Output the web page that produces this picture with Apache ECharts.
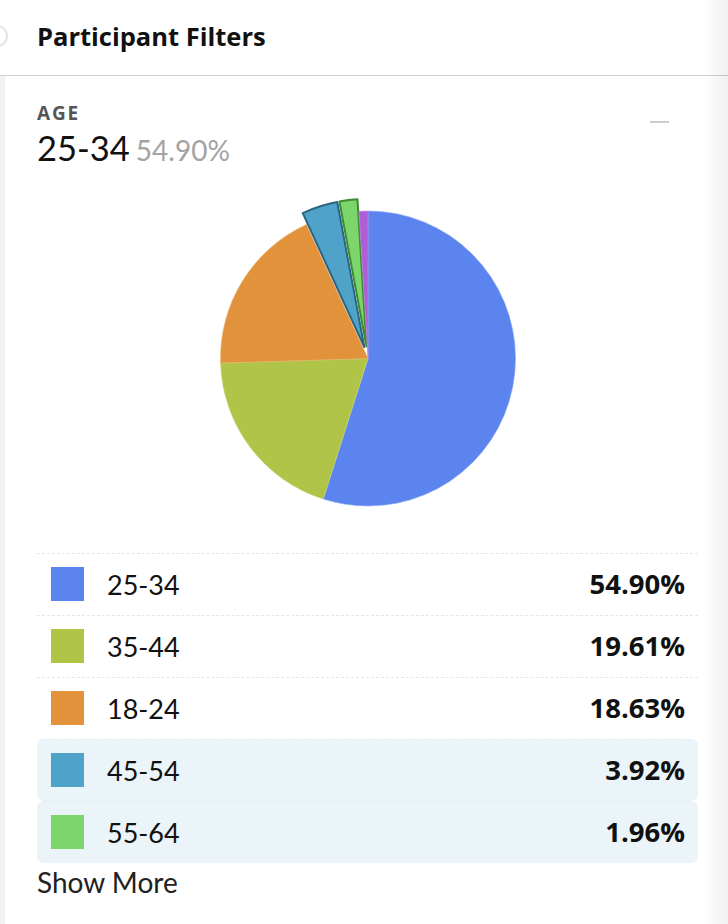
<!DOCTYPE html>
<html>
<head>
<meta charset="utf-8">
<script src="https://cdn.jsdelivr.net/npm/echarts@6/dist/echarts.min.js"></script>
<style>
  body { margin: 0; width: 728px; height: 924px; background: #fff; font-family: Lato, "Open Sans", sans-serif; position: relative; overflow: hidden; color: #111; }
  .header { position: absolute; left: 0; top: 0; width: 728px; height: 75px; border-bottom: 1px solid #cfcfcf; }
  .title { position: absolute; left: 37px; top: 23.5px; line-height: 1; font-family: "Open Sans", sans-serif; font-size: 25.5px; font-weight: 700; color: #111; white-space: nowrap; }
  .ring { position: absolute; left: -14px; top: 25px; width: 18px; height: 18px; border-radius: 50%; border: 2px solid #e4e4e4; }
  .strip { position: absolute; left: 0; top: 76px; width: 5px; height: 848px; background: #f2f2f2; }
  .shade { position: absolute; right: 0; top: 0; width: 24px; height: 924px; background: linear-gradient(to right, rgba(0,0,0,0), rgba(0,0,0,0.06)); }
  .age { position: absolute; left: 37px; top: 104px; line-height: 1; font-family: "Open Sans", sans-serif; font-size: 19px; font-weight: 700; letter-spacing: 1.8px; color: #555; }
  .current { position: absolute; left: 37px; top: 131px; line-height: 1; font-size: 34.5px; color: #111; white-space: nowrap; }
  .current span { font-size: 28px; color: #a3a3a3; margin-left: 6px; }
  .minus { position: absolute; left: 650px; top: 121px; width: 19px; height: 2px; background: #cdcdcd; }
  #pie { position: absolute; left: 0; top: 180px; width: 728px; height: 360px; }
  #legend { position: absolute; left: 37px; top: 553px; width: 661px; }
  .row { position: relative; height: 61px; border-top: 1px dashed #e6e6e6; }
  .row.hl { background: #ebf4f8; border-radius: 7px; border-top-color: #e2ecf0; }
  .sw { position: absolute; left: 14px; top: 13px; width: 33px; height: 34px; }
  .lbl { position: absolute; left: 70px; top: 17px; line-height: 1; font-size: 27px; color: #111; }
  .val { position: absolute; right: 13px; top: 16px; line-height: 1; font-family: "Open Sans", sans-serif; font-size: 27.5px; font-weight: 700; color: #111; }
  .more { position: absolute; left: 37px; top: 868px; line-height: 1; font-size: 28px; color: #222; }
</style>
</head>
<body>
<div class="header"><div class="ring"></div><div class="title">Participant Filters</div></div>
<div class="strip"></div>
<div class="shade"></div>
<div class="age">AGE</div>
<div class="current" id="current"></div>
<div class="minus"></div>
<div id="pie"></div>
<div id="legend"></div>
<div class="more">Show More</div>
<script>
const ageGroups = ["25-34", "35-44", "18-24", "45-54", "55-64", "65+"];
const percents = [54.90, 19.61, 18.63, 3.92, 1.96, 0.98];
const legendCount = 5;

const sliceColors = ["#5b84ee", "#b0c447", "#e2923a", "#4fa3c9", "#7dd66c", "#b05ed8"];
const edgeColors = ["#8aa8f3", "#c5d47a", "#eab06e", "#2a6580", "#3c8a32", "#c78be3"];
const pulledOut = [false, false, false, true, true, false];

function pct(v) {
  return v.toFixed(2) + "%";
}

function renderHeader() {
  document.getElementById("current").innerHTML =
    `${ageGroups[0]}<span>${pct(percents[0])}</span>`;
}

function renderLegend() {
  const el = document.getElementById("legend");
  el.innerHTML = ageGroups
    .slice(0, legendCount)
    .map((name, i) => `
      <div class="row${pulledOut[i] ? " hl" : ""}">
        <div class="sw" style="background:${sliceColors[i]}"></div>
        <div class="lbl">${name}</div>
        <div class="val">${pct(percents[i])}</div>
      </div>`)
    .join("");
}

function renderPie() {
  const chart = echarts.init(document.getElementById("pie"), null, { renderer: "canvas" });
  chart.setOption({
    animation: false,
    series: [
      {
        type: "pie",
        center: [368, 178.5],
        radius: [0, 147.5],
        startAngle: 90,
        clockwise: true,
        selectedMode: "multiple",
        selectedOffset: 12,
        label: { show: false },
        labelLine: { show: false },
        emphasis: { disabled: true },
        data: ageGroups.map((name, i) => ({
          name,
          value: percents[i],
          selected: pulledOut[i],
          itemStyle: {
            color: sliceColors[i],
            borderColor: edgeColors[i],
            borderWidth: pulledOut[i] ? 2 : 0.6,
          },
        })),
      },
    ],
  });
}

renderHeader();
renderLegend();
renderPie();
</script>
</body>
</html>
